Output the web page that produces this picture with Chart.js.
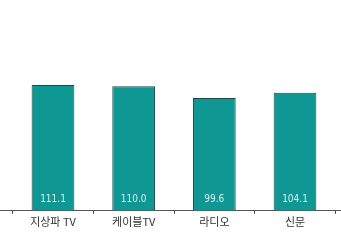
<!DOCTYPE html>
<html>
<head>
<meta charset="utf-8">
<script src="https://cdn.jsdelivr.net/npm/chart.js@4/dist/chart.umd.min.js"></script>
<style>
html,body{margin:0;padding:0;background:#fff;overflow:hidden;width:341px;height:241px;}
#wrap{position:absolute;left:-68px;top:0;width:484px;height:241px;}
</style>
</head>
<body>
<div id="wrap"><canvas id="c"></canvas></div>
<script>
// Categories (outer two are cut off by the crop of the original chart)
const categories = ['', '지상파 TV', '케이블TV', '라디오', '신문', ''];
const values = [null, 111.1, 110.0, 99.6, 104.1, null];
const valueLabels = ['', '111.1', '110.0', '99.6', '104.1', ''];

const valueLabelPlugin = {
  id: 'valueLabels',
  afterDatasetsDraw(chart) {
    const ctx = chart.ctx;
    const meta = chart.getDatasetMeta(0);
    const yBase = chart.scales.y.getPixelForValue(0);
    ctx.save();
    ctx.font = '10px "DejaVu Sans Condensed", "Liberation Sans Narrow", sans-serif';
    ctx.fillStyle = '#d6efec';
    ctx.textAlign = 'center';
    ctx.textBaseline = 'middle';
    meta.data.forEach((bar, i) => {
      if (values[i] == null) return;
      ctx.fillText(valueLabels[i], bar.x, yBase - 11);
    });
    ctx.restore();
  }
};

new Chart(document.getElementById('c'), {
  type: 'bar',
  data: {
    labels: categories,
    datasets: [{
      data: values,
      backgroundColor: '#0f9793',
      borderColor: '#1c4848',
      borderWidth: 1,
      borderSkipped: 'bottom',
      barPercentage: 0.53,
      categoryPercentage: 1.0
    }]
  },
  options: {
    responsive: true,
    maintainAspectRatio: false,
    animation: false,
    layout: { padding: { top: 0, bottom: 12, left: 0, right: 0 } },
    plugins: { legend: { display: false }, tooltip: { enabled: false } },
    scales: {
      x: {
        offset: true,
        grid: { display: true, offset: true, drawOnChartArea: false, drawTicks: true, tickLength: 3, color: '#444', lineWidth: 1 },
        border: { display: true, color: '#555', width: 1 },
        ticks: { color: '#333', font: { size: 11, family: '"Noto Sans CJK KR", sans-serif' }, padding: 1, maxRotation: 0, autoSkip: false }
      },
      y: {
        display: false,
        min: 0,
        max: 186
      }
    }
  },
  plugins: [valueLabelPlugin]
});
</script>
</body>
</html>
